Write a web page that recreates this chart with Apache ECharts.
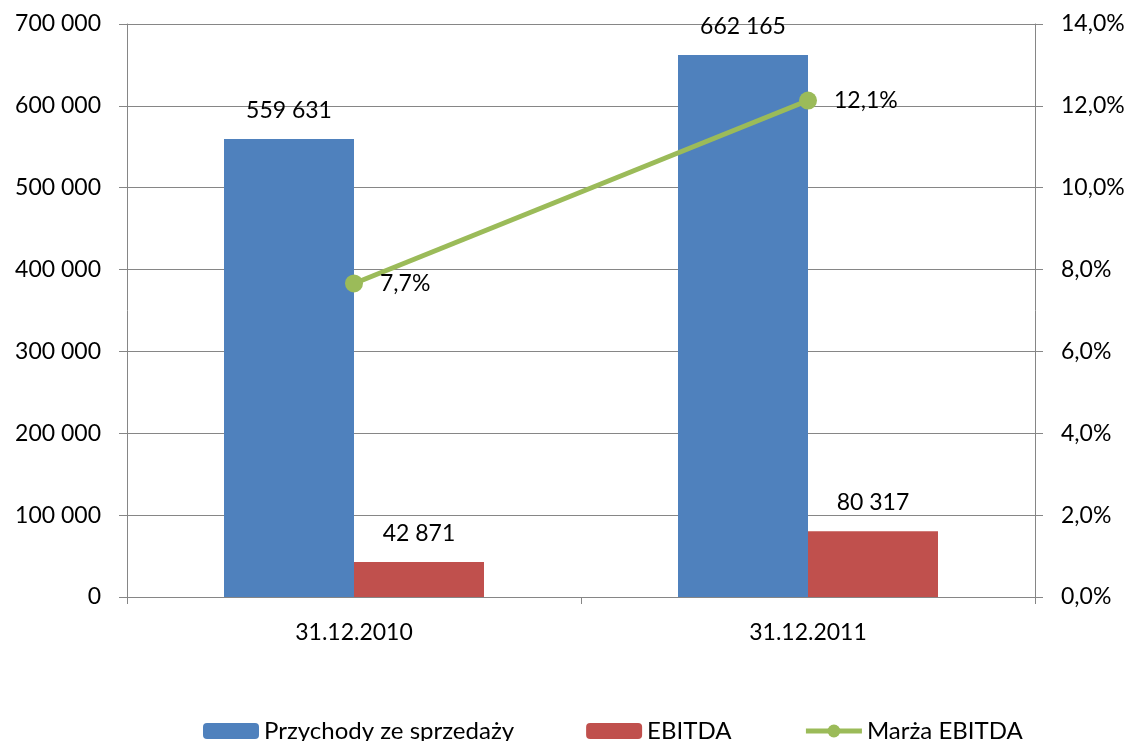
<!DOCTYPE html>
<html>
<head>
<meta charset="utf-8">
<script src="https://cdn.jsdelivr.net/npm/echarts@6/dist/echarts.min.js"></script>
<style>html,body{margin:0;padding:0;background:#fff;}#c{width:1132px;height:741px;}</style>
</head>
<body>
<div id="c"></div>
<script>
var categories = ['31.12.2010', '31.12.2011'];
var przychody = [559631, 662165];
var ebitda = [42871, 80317];
var marza = [7.66, 12.13];
var leftTicks = [0, 100000, 200000, 300000, 400000, 500000, 600000, 700000];
var rightTicks = [0, 2, 4, 6, 8, 10, 12, 14];

var FONT = 'Lato';
var FS = 23;
function fmtNum(v) { return String(Math.round(v)).replace(/\B(?=(\d{3})+(?!\d))/g, ' '); }
function fmtPct(v, d) { return v.toFixed(d).replace('.', ',') + '%'; }
var axisGrey = '#868686';

var chart = echarts.init(document.getElementById('c'));
chart.setOption({
  animation: false,
  textStyle: { fontFamily: FONT },
  grid: { left: 127, right: 97, top: 24, bottom: 144 },
  legend: {
    top: 714,
    left: 198,
    itemWidth: 56,
    itemHeight: 16,
    itemGap: 72,
    textStyle: { fontSize: 24, color: '#000', fontFamily: FONT },
    lineStyle: { width: 5 },
    data: ['Przychody ze sprzedaży', 'EBITDA', 'Marża EBITDA']
  },
  xAxis: {
    type: 'category',
    data: categories,
    axisLine: { lineStyle: { color: axisGrey, width: 1 } },
    axisTick: { show: true, length: 7, lineStyle: { color: axisGrey } },
    axisLabel: { color: '#000', fontSize: FS, margin: 24, fontFamily: FONT }
  },
  yAxis: [{
    type: 'value',
    min: leftTicks[0], max: leftTicks[leftTicks.length - 1], interval: 100000,
    axisLine: { show: true, lineStyle: { color: axisGrey } },
    axisTick: { show: true, length: 8, lineStyle: { color: axisGrey } },
    splitLine: { show: true, lineStyle: { color: axisGrey, width: 1 } },
    axisLabel: { color: '#000', fontSize: FS, margin: 26, fontFamily: FONT, formatter: function (v) { return fmtNum(v); } }
  }, {
    type: 'value',
    min: rightTicks[0], max: rightTicks[rightTicks.length - 1], interval: 2,
    position: 'right',
    axisLine: { show: true, lineStyle: { color: axisGrey } },
    axisTick: { show: true, length: 8, lineStyle: { color: axisGrey } },
    splitLine: { show: false },
    axisLabel: { color: '#000', fontSize: FS, margin: 26, fontFamily: FONT, formatter: function (v) { return fmtPct(v, 1); } }
  }],
  series: [{
    name: 'Przychody ze sprzedaży',
    type: 'bar',
    data: przychody,
    barWidth: 130,
    barGap: '0%',
    itemStyle: { color: '#4F81BD' },
    label: { show: true, position: 'top', distance: 17, color: '#000', fontSize: FS, fontFamily: FONT, formatter: function (p) { return fmtNum(p.value); } }
  }, {
    name: 'EBITDA',
    type: 'bar',
    data: ebitda,
    barWidth: 130,
    barGap: '0%',
    itemStyle: { color: '#C0504D' },
    label: { show: true, position: 'top', distance: 17, color: '#000', fontSize: FS, fontFamily: FONT, formatter: function (p) { return fmtNum(p.value); } }
  }, {
    name: 'Marża EBITDA',
    type: 'line',
    yAxisIndex: 1,
    data: marza,
    symbol: 'circle',
    symbolSize: 18,
    lineStyle: { color: '#9BBB59', width: 5 },
    itemStyle: { color: '#9BBB59' },
    label: { show: true, position: 'right', distance: 17, color: '#000', fontSize: FS, fontFamily: FONT, formatter: function (p) { return fmtPct(p.value, 1); } },
    z: 5
  }]
});
</script>
</body>
</html>
